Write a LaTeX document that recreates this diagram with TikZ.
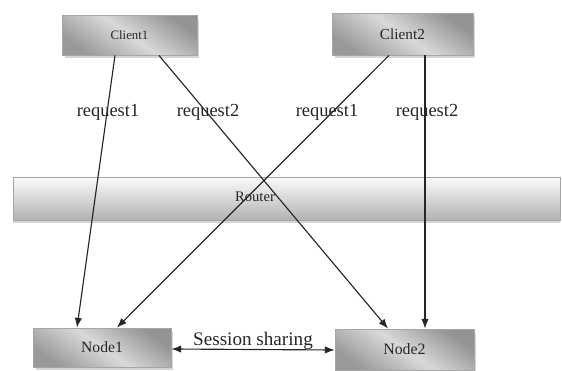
\documentclass[tikz,border=0pt]{standalone}
\usepackage{fontspec}
\setmainfont{Liberation Serif}
\usetikzlibrary{arrows.meta,calc,shadows}
\begin{document}
\begin{tikzpicture}[x=0.02cm,y=-0.02cm]
	% Styles
	\tikzstyle{fleche}=[->,>={Latex[length=5.5pt,width=4.2pt]},line width=0.65pt,black!85]
	\tikzstyle{boite}=[draw=gray!70,line width=0.5pt,inner sep=0pt,text=black!85,
		left color=gray!85,right color=gray!80,middle color=gray!30,shading angle=-35,
		drop shadow={shadow xshift=0.05cm,shadow yshift=-0.07cm,fill=gray!55,opacity=0.6}]
	\tikzstyle{bus}=[draw=gray!70,line width=0.5pt,inner sep=0pt,text=black!85,
		top color=gray!3,bottom color=gray!60,
		drop shadow={shadow xshift=0cm,shadow yshift=-0.07cm,fill=gray!55,opacity=0.6}]
	\tikzstyle{commentaire}=[black!85,inner sep=0pt,font=\fontsize{10.5}{12}\selectfont]
	\useasboundingbox (0,0) rectangle (562,371);
	% Noeuds
	\node[boite,minimum width=2.7cm,minimum height=0.8cm,font=\fontsize{7.3}{9}\selectfont] (C1) at (129.5,35) {Client1};
	\node[boite,minimum width=2.82cm,minimum height=0.84cm,font=\fontsize{8.7}{10}\selectfont] (C2) at (402.5,34) {Client2};
	\node[bus,minimum width=10.94cm,minimum height=0.86cm,
		label={[xshift=-0.63cm,yshift=0.04cm,text=black!85,font=\fontsize{8.3}{10}\selectfont]center:Router}] (R) at (286.5,198.5) {};
	\node[boite,minimum width=2.76cm,minimum height=0.78cm,font=\fontsize{8.9}{10}\selectfont] (N1) at (102,347.5) {Node1};
	\node[boite,minimum width=2.78cm,minimum height=0.82cm,font=\fontsize{9}{10}\selectfont] (N2) at (404.5,349.5) {Node2};
	% Commentaires
	\node[commentaire] (q1) at (108,112) {request1};
	\node[commentaire] (q2) at (208,112) {request2};
	\node[commentaire] (q3) at (327,112) {request1};
	\node[commentaire] (q4) at (427,112) {request2};
	% Arcs
	\draw[fleche] ($(C1.south)+(-14.5,0)$)--($(N1.north)+(-25,0)$);
	\draw[fleche] ($(C1.south)+(29.5,0)$)--($(N2.north)+(-16.5,0)$);
	\draw[fleche] ($(C2.south)+(-13.5,0)$)--($(N1.north)+(15,0)$);
	\draw[fleche] ($(C2.south)+(22.5,0)$)--($(N2.north)+(20.5,0)$);
	\draw[fleche,<->] ($(N1.east)+(0,1.5)$)--($(N2.west)+(0,0.5)$) node[midway,above=-3.5pt,font=\fontsize{10.9}{12}\selectfont]{Session sharing};
\end{tikzpicture}
\end{document}
